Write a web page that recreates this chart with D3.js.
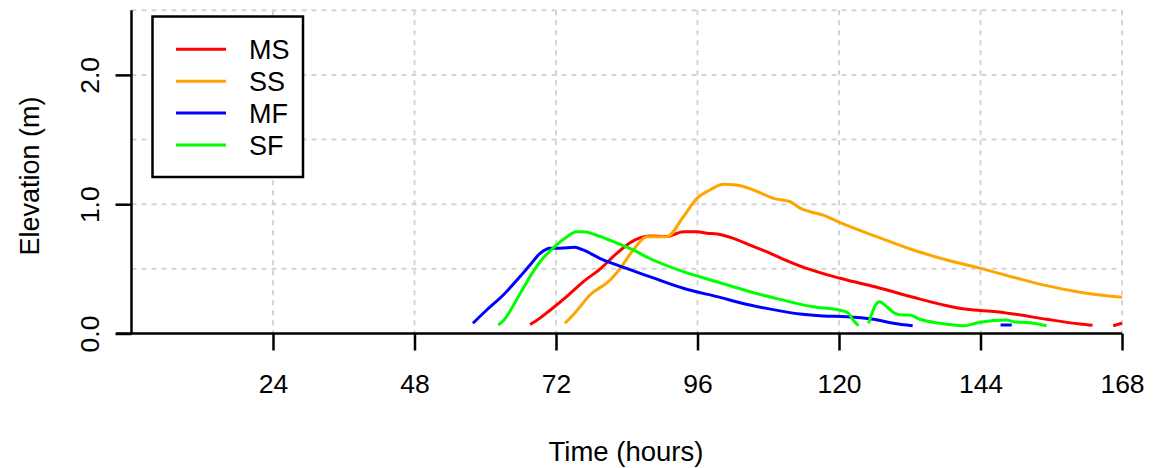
<!DOCTYPE html>
<html>
<head>
<script src="https://d3js.org/d3.v7.min.js"></script>
<style>
  body { margin: 0; background: #fff; }
  text { font-family: "Liberation Sans", Arial, Helvetica, sans-serif; fill: #000; }
</style>
</head>
<body>
<svg width="1155" height="468"></svg>
<script>
// series names and colours
var seriesNames = ["MS", "SS", "MF", "SF"];
var seriesColors = ["#ff0000", "#ffa500", "#0000ff", "#00ff00"];

// x ticks (hours) and y ticks (m)
var xTicks = [24, 48, 72, 96, 120, 144, 168];
var yTicks = [0, 1, 2];
var yGrid = [0.5, 1, 1.5, 2, 2.5];

// MS (red) - null marks a gap
var msHours = [67.6, 68.7, 71.0, 73.8, 76.6, 79.5, 82.3, 84.5, 86.2, 87.9, 90.8, 93.6, 95.9, 97.6, 99.3, 102.1, 104.9, 107.7, 110.3, 114.5, 120.2, 127.0, 132.6, 138.3, 141.7, 146.7, 149.6, 155.2, 160.9, 163.0, 164.5, 166.5, 168.0];
var msElev = [0.07, 0.10, 0.18, 0.285, 0.40, 0.50, 0.62, 0.70, 0.74, 0.754, 0.75, 0.787, 0.787, 0.775, 0.77, 0.736, 0.684, 0.633, 0.58, 0.504, 0.427, 0.35, 0.28, 0.215, 0.187, 0.169, 0.151, 0.11, 0.073, 0.063, null, 0.06, 0.079];

// SS (orange)
var ssHours = [73.5, 74.9, 77.8, 81.2, 82.9, 85.1, 87.4, 90.8, 93.6, 95.9, 98.1, 100.4, 102.6, 105.5, 108.9, 111.7, 113.4, 115.1, 117.3, 120.2, 126.4, 132.6, 138.3, 144.0, 149.6, 155.2, 160.9, 168.0];
var ssElev = [0.079, 0.143, 0.30, 0.414, 0.504, 0.646, 0.749, 0.749, 0.903, 1.045, 1.11, 1.154, 1.148, 1.11, 1.045, 1.02, 0.97, 0.942, 0.916, 0.857, 0.749, 0.646, 0.568, 0.504, 0.435, 0.37, 0.319, 0.28];

// MF (blue)
var mfHours = [57.9, 60.2, 63.1, 65.9, 67.6, 69.3, 71.0, 72.7, 75.2, 76.6, 79.5, 82.3, 87.9, 93.6, 99.3, 104.9, 110.0, 113.4, 117.3, 121.3, 125.8, 129.2, 132.5, 140.0, 147.4, 149.3];
var mfElev = [0.079, 0.18, 0.30, 0.44, 0.53, 0.62, 0.66, 0.66, 0.667, 0.646, 0.58, 0.53, 0.44, 0.35, 0.285, 0.22, 0.175, 0.15, 0.135, 0.13, 0.11, 0.079, 0.06, null, 0.066, 0.066];

// SF (green)
var sfHours = [62.2, 63.1, 65.3, 67.6, 69.3, 71.5, 73.5, 75.5, 76.6, 79.5, 82.3, 85.1, 87.9, 93.6, 99.3, 104.9, 110.0, 115.6, 120.2, 121.6, 122.4, 123.3, 124.2, 125.0, 126.4, 126.9, 128.1, 129.5, 130.9, 132.0, 133.7, 137.1, 141.1, 143.9, 148.4, 149.6, 152.4, 155.2];
var sfElev = [0.066, 0.10, 0.26, 0.44, 0.555, 0.66, 0.736, 0.787, 0.787, 0.75, 0.70, 0.646, 0.58, 0.478, 0.40, 0.323, 0.264, 0.207, 0.18, 0.156, 0.104, 0.06, null, 0.079, 0.233, 0.246, 0.207, 0.156, 0.143, 0.143, 0.11, 0.079, 0.06, 0.087, 0.104, 0.091, 0.083, 0.06];

var allHours = [msHours, ssHours, mfHours, sfHours];
var allElev = [msElev, ssElev, mfElev, sfElev];

var svg = d3.select("svg");
var fs = 26.5;

var x = d3.scaleLinear().domain([0, 168]).range([131.5, 1122]);
var y = d3.scaleLinear().domain([0, 2.5]).range([333.5, 10.25]);

// grid
var grid = svg.append("g")
    .attr("stroke", "#d3d3d3")
    .attr("stroke-width", 2)
    .attr("stroke-dasharray", "5,5");
grid.selectAll(".vg").data(xTicks).enter().append("line")
    .attr("x1", function(d) { return x(d); })
    .attr("x2", function(d) { return x(d); })
    .attr("y1", y(2.5)).attr("y2", y(0));
grid.selectAll(".hg").data(yGrid).enter().append("line")
    .attr("x1", x(0)).attr("x2", x(168))
    .attr("y1", function(d) { return y(d); })
    .attr("y2", function(d) { return y(d); });

// x axis
var xAxis = svg.append("g")
    .attr("transform", "translate(0," + y(0) + ")")
    .call(d3.axisBottom(x).tickValues(xTicks).tickSize(17).tickPadding(24).tickSizeOuter(0));
xAxis.select(".domain").attr("d", "M116,0H" + x(168)).attr("stroke-width", 2.5);
xAxis.selectAll(".tick line").attr("stroke-width", 2.5);
xAxis.selectAll(".tick text").attr("font-size", fs).attr("dy", "0.71em");

// y axis
var yAxis = svg.append("g")
    .attr("transform", "translate(" + x(0) + ",0)")
    .call(d3.axisLeft(y).tickValues(yTicks).tickSize(16).tickSizeOuter(0)
        .tickFormat(d3.format(".1f")));
yAxis.select(".domain").attr("d", "M0," + y(2.5) + "V" + y(0)).attr("stroke-width", 2.5);
yAxis.selectAll(".tick line").attr("stroke-width", 2.5);
yAxis.selectAll(".tick text")
    .attr("font-size", fs)
    .attr("text-anchor", "middle")
    .attr("transform", "rotate(-90)")
    .attr("x", 0).attr("y", -33).attr("dy", 0);

// series lines
var line = d3.line()
    .defined(function(d) { return d[1] !== null; })
    .curve(d3.curveMonotoneX)
    .x(function(d) { return x(d[0]); })
    .y(function(d) { return y(d[1]); });

seriesNames.forEach(function(name, i) {
    var pts = allHours[i].map(function(h, j) { return [h, allElev[i][j]]; });
    svg.append("path")
        .datum(pts)
        .attr("fill", "none")
        .attr("stroke", seriesColors[i])
        .attr("stroke-width", 3)
        .attr("stroke-linejoin", "round")
        .attr("d", line);
});

// axis titles
svg.append("text")
    .attr("x", 626).attr("y", 461)
    .attr("text-anchor", "middle")
    .attr("font-size", 27.5)
    .text("Time (hours)");
svg.append("text")
    .attr("transform", "translate(39,176) rotate(-90)")
    .attr("text-anchor", "middle")
    .attr("font-size", 27)
    .text("Elevation (m)");

// legend
var legend = svg.append("g");
legend.append("rect")
    .attr("x", 152.5).attr("y", 16.5)
    .attr("width", 150.5).attr("height", 160.5)
    .attr("fill", "#fff")
    .attr("stroke", "#000")
    .attr("stroke-width", 2.5);
seriesNames.forEach(function(name, i) {
    var ry = 49.3 + i * 31.9;
    legend.append("line")
        .attr("x1", 176).attr("x2", 226)
        .attr("y1", ry).attr("y2", ry)
        .attr("stroke", seriesColors[i])
        .attr("stroke-width", 3);
    legend.append("text")
        .attr("x", 249).attr("y", ry)
        .attr("dy", "0.36em")
        .attr("font-size", 27)
        .text(name);
});
</script>
</body>
</html>
